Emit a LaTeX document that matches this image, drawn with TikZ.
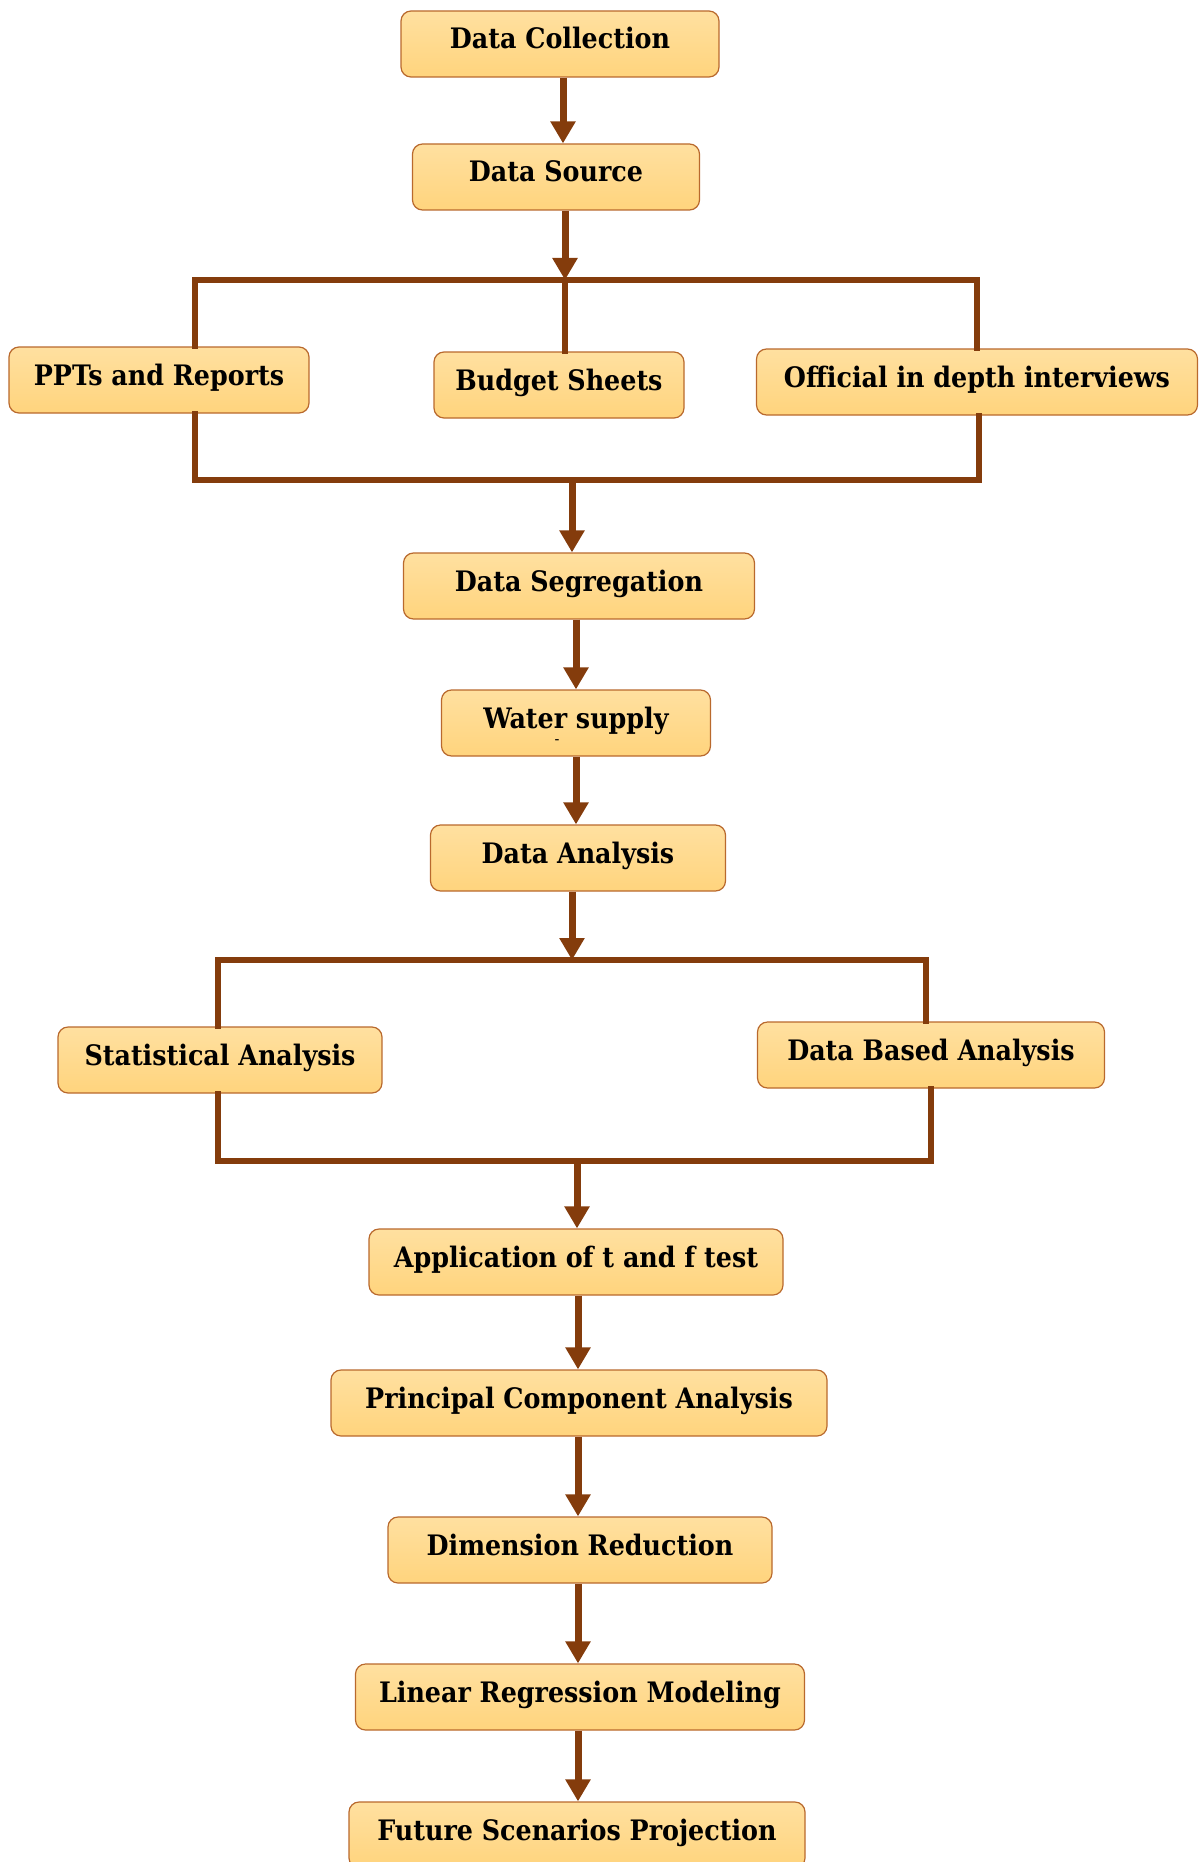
\documentclass[tikz,border=0pt]{standalone}
\usepackage{fontspec}
\setmainfont{DejaVu Serif Condensed}
\usetikzlibrary{arrows.meta}
\definecolor{boxtop}{RGB}{255,224,160}
\definecolor{boxbot}{RGB}{255,212,125}
\definecolor{boxline}{RGB}{185,105,45}
\definecolor{flowbrown}{RGB}{132,60,12}
\tikzset{
  procbox/.style={draw=boxline, line width=0.6pt, rounded corners=5pt,
    top color=boxtop, bottom color=boxbot, minimum height=33pt, inner sep=0pt,
    text height=10.5pt, text depth=5.5pt,
    font=\fontsize{14.1}{16}\selectfont\bfseries},
  flow/.style={draw=flowbrown, line width=3.5pt, -{Triangle[length=11pt,width=12pt]}},
  bracket/.style={draw=flowbrown, line width=2.8pt, line cap=rect}
}
\begin{document}
\begin{tikzpicture}[x=0.5pt, y=-0.5pt]
\useasboundingbox (0,0) rectangle (1199,1862);

% collection and sources
\node[procbox, minimum width=159pt] (collect) at (560,44) {Data Collection};
\node[procbox, minimum width=143.5pt] (source) at (556,177) {Data Source};
\node[procbox, minimum width=150pt] (ppts) at (159,380) {PPTs and Reports};
\node[procbox, minimum width=125pt] (budget) at (559,385) {Budget Sheets};
\node[procbox, minimum width=220.5pt] (official) at (977,382) {Official in depth interviews};

\coordinate (hubA) at (565,280);
\coordinate (leftA) at (195,280);
\coordinate (rightA) at (977,280);
\coordinate (hubB) at (572,480);
\coordinate (leftB) at (195,480);
\coordinate (rightB) at (979,480);

% main chain
\node[procbox, minimum width=175.5pt] (segregate) at (579,586) {Data Segregation};
\node[procbox, minimum width=134.5pt] (water) at (576,723) {Water supply};
\node[font=\fontsize{8}{8}\selectfont, inner sep=0pt] (waterdash) at (557,742) {-};
\node[procbox, minimum width=147.5pt] (analysis) at (578,858) {Data Analysis};
\node[procbox, minimum width=162pt] (stat) at (220,1060) {Statistical Analysis};
\node[procbox, minimum width=173.5pt] (databased) at (931,1055) {Data Based Analysis};

\coordinate (hubC) at (572,960);
\coordinate (leftC) at (218,960);
\coordinate (rightC) at (926,960);
\coordinate (hubD) at (577,1161);
\coordinate (leftD) at (218,1161);
\coordinate (rightD) at (931,1161);

\node[procbox, minimum width=207pt] (tftest) at (576,1262) {Application of t and f test};
\node[procbox, minimum width=248pt] (pca) at (579,1403) {Principal Component Analysis};
\node[procbox, minimum width=192pt] (dimred) at (580,1550) {Dimension Reduction};
\node[procbox, minimum width=224.5pt] (linreg) at (580,1697) {Linear Regression Modeling};
\node[procbox, minimum width=228pt] (future) at (577,1835) {Future Scenarios Projection};

% connectors
\draw[flow] (collect.south -| 563,0) -- (source.north -| 563,0);
\draw[flow] (source.south -| hubA) -- (hubA);
\draw[bracket] (ppts.north -| leftA) -- (leftA) -- (rightA) -- (official.north -| rightA);
\draw[bracket] (hubA) -- (budget.north -| hubA);
\draw[bracket] (ppts.south -| leftB) -- (leftB) -- (rightB) -- (official.south -| rightB);
\draw[flow] (hubB) -- (segregate.north -| hubB);

\draw[flow] (segregate.south -| water) -- (water.north);
\draw[flow] (water.south) -- (analysis.north -| water);
\draw[flow] (analysis.south -| hubC) -- (hubC);
\draw[bracket] (stat.north -| leftC) -- (leftC) -- (rightC) -- (databased.north -| rightC);
\draw[bracket] (stat.south -| leftD) -- (leftD) -- (rightD) -- (databased.south -| rightD);
\draw[flow] (hubD) -- (tftest.north -| hubD);

\foreach \a/\b in {tftest/pca, pca/dimred, dimred/linreg, linreg/future}
  \draw[flow] (\a.south -| 578,0) -- (\b.north -| 578,0);
\end{tikzpicture}
\end{document}
